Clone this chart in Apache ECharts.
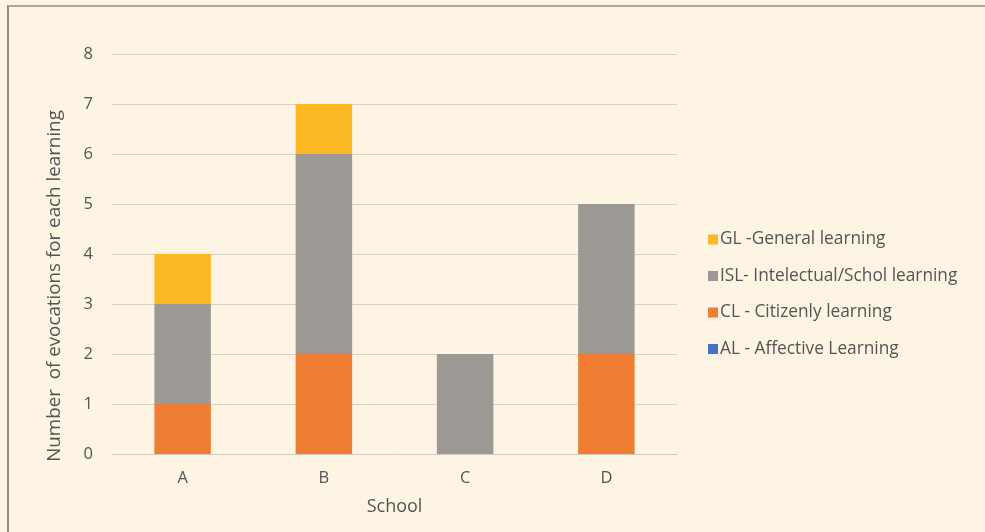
<!DOCTYPE html>
<html><head><meta charset="utf-8">
<script src="https://cdn.jsdelivr.net/npm/echarts@6/dist/echarts.min.js"></script>
<style>
html,body{margin:0;padding:0;background:#fdf4e4;}
#frame{position:absolute;left:7px;top:5px;width:985px;height:540px;border-left:2px solid #958a80;border-top:2px solid #b0a598;}
#c{position:absolute;left:0;top:0;width:985px;height:532px;}
</style></head><body>
<div id="frame"></div>
<div id="c"></div>
<script>
const categories = ['A','B','C','D'];
const AL = [0,0,0,0];
const CL = [1,2,0,2];
const ISL = [2,4,2,3];
const GL = [1,1,0,0];
const yTicks = [0,1,2,3,4,5,6,7,8];
const yName = 'Number  of evocations for each learning';

const chart = echarts.init(document.getElementById('c'));
const font = '"Open Sans", sans-serif';
function s(name, data, color){
  return {name, type:'bar', stack:'t', data, barWidth:'40%', itemStyle:{color}, emphasis:{disabled:true}};
}
chart.setOption({
  backgroundColor:'transparent',
  animation:false,
  textStyle:{fontFamily:font},
  grid:{left:112, right:308, top:54, bottom:78},
  graphic:[{
    type:'text', x:55, y:286, rotation:Math.PI/2,
    style:{text:yName, fill:'#555', font:'18.8px "Open Sans", sans-serif', align:'center', verticalAlign:'middle'}
  }],
  legend:{
    orient:'vertical', left:703, top:226, itemGap:19.5,
    itemWidth:10, itemHeight:10, icon:'rect',
    data:['GL -General learning','ISL- Intelectual/Schol learning','CL - Citizenly learning','AL - Affective Learning'],
    textStyle:{color:'#555', fontSize:17.3, fontFamily:font, padding:[0,0,0,-3]}
  },
  xAxis:{
    type:'category', data:categories,
    name:'School', nameLocation:'middle', nameGap:44,
    nameTextStyle:{color:'#555', fontSize:18, fontFamily:font},
    axisLine:{lineStyle:{color:'#d0cac0', width:1}},
    axisTick:{show:false},
    axisLabel:{color:'#555', fontSize:16.5, margin:16}
  },
  yAxis:{
    type:'value', min:0, max:8, interval:1,
    axisLine:{show:false}, axisTick:{show:false},
    axisLabel:{color:'#555', fontSize:16.5, margin:19, formatter:v=>yTicks.includes(v)?String(v):''},
    splitLine:{lineStyle:{color:'#d8d2c8', width:1}}
  },
  series:[
    s('AL - Affective Learning', AL, '#4472c4'),
    s('CL - Citizenly learning', CL, '#ef7d33'),
    s('ISL- Intelectual/Schol learning', ISL, '#9c9995'),
    s('GL -General learning', GL, '#fdb924')
  ]
});
</script>
</body></html>
